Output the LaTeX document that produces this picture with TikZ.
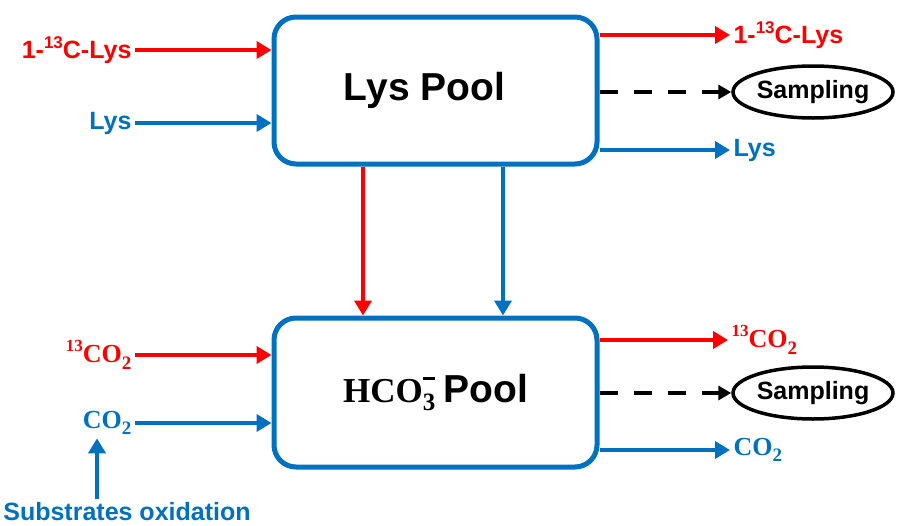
\documentclass[tikz,border=0pt]{standalone}
\usepackage{fontspec}
\setmainfont{Liberation Sans}
\newfontfamily\chemfont{Liberation Serif}
\usetikzlibrary{arrows.meta,shapes.geometric}
\definecolor{flowblue}{RGB}{0,112,192}
\definecolor{flowred}{RGB}{255,0,0}
% raised isotope number and lowered subscript, at a fixed smaller size
\newcommand{\isoup}[1]{\raisebox{0.42em}{\fontsize{17}{17}\selectfont #1}}
\newcommand{\isodown}[1]{\raisebox{-0.25em}{\fontsize{19}{19}\selectfont #1}}
\begin{document}
\begin{tikzpicture}[x=1pt,y=-1pt,
  pool/.style={draw=flowblue, line width=5pt, rounded corners=22pt,
    minimum width=323pt, fill=white, font=\bfseries\fontsize{39}{44}\selectfont},
  lbl/.style={font=\bfseries\fontsize{25}{29}\selectfont},
  chem/.style={font=\chemfont\bfseries\fontsize{26}{30}\selectfont},
  flow/.style={line width=4.5pt, -{Triangle[length=15pt,width=17pt]}},
  sample/.style={line width=4.5pt, dash pattern=on 18pt off 16pt,
    -{Triangle[length=13pt,width=14pt]}},
  samplenode/.style={ellipse, draw=black, line width=3.5pt, minimum width=160pt,
    minimum height=52pt, inner sep=0pt, font=\bfseries\fontsize{25}{29}\selectfont}
]
\useasboundingbox (0,0) rectangle (897,525);

% pools
\node[pool, minimum height=147pt] (lys) at (435.5,90.5) {Lys Pool\hspace*{22pt}};
\node[pool, minimum height=149pt] (hco) at (435.5,392.5)
  {{\chemfont\fontsize{35}{40}\selectfont HCO\makebox[0pt][l]{\raisebox{-8pt}{\fontsize{25}{25}\selectfont 3}}\hspace{0.5pt}\raisebox{23pt}{\rule{12pt}{2.2pt}}}\hspace{8pt}Pool};

% inputs to the lysine pool
\node[lbl, text=flowred, anchor=east] (inLysLab) at (135,50) {1-\isoup{13}C-Lys};
\node[lbl, text=flowblue, anchor=east] (inLys) at (135,123) {Lys};
\draw[flow, flowred] (inLysLab.east) -- (lys.west |- inLysLab.east);
\draw[flow, flowblue] (inLys.east) -- (lys.west |- inLys.east);

% outputs of the lysine pool
\node[lbl, text=flowred, anchor=west] (outLysLab) at (730,35) {1-\isoup{13}C-Lys};
\node[samplenode] (samp1) at (813,92) {Sampling};
\node[lbl, text=flowblue, anchor=west] (outLys) at (730,150) {Lys};
\draw[flow, flowred] (lys.east |- outLysLab.west) -- (outLysLab.west);
\draw[sample, black] (lys.east |- samp1.west) -- (samp1.west);
\draw[flow, flowblue] (lys.east |- outLys.west) -- (outLys.west);

% transfer from lysine pool to bicarbonate pool
\draw[flow, flowred] (363,0 |- lys.south) -- (363,0 |- hco.north);
\draw[flow, flowblue] (503,0 |- lys.south) -- (503,0 |- hco.north);

% inputs to the bicarbonate pool
\node[chem, text=flowred, anchor=east] (inCO2Lab) at (135,355) {\isoup{13}CO\isodown{2}};
\node[chem, text=flowblue, anchor=east] (inCO2) at (135,423) {CO\isodown{2}};
\draw[flow, flowred] (inCO2Lab.east) -- (hco.west |- inCO2Lab.east);
\draw[flow, flowblue] (inCO2) -- (hco.west |- inCO2);
\node[lbl, text=flowblue] (subox) at (127,512) {Substrates oxidation};
\draw[flow, flowblue] (97,0 |- subox.north) -- (97,0 |- inCO2.south);

% outputs of the bicarbonate pool
\node[chem, text=flowred, anchor=west] (outCO2Lab) at (728,340) {\isoup{13}CO\isodown{2}};
\node[samplenode] (samp2) at (813,393) {Sampling};
\node[chem, text=flowblue, anchor=west] (outCO2) at (730,450) {CO\isodown{2}};
\draw[flow, flowred] (hco.east |- outCO2Lab.west) -- (outCO2Lab.west);
\draw[sample, black] (hco.east |- samp2.west) -- (samp2.west);
\draw[flow, flowblue] (hco.east |- outCO2.west) -- (outCO2.west);
\end{tikzpicture}
\end{document}
